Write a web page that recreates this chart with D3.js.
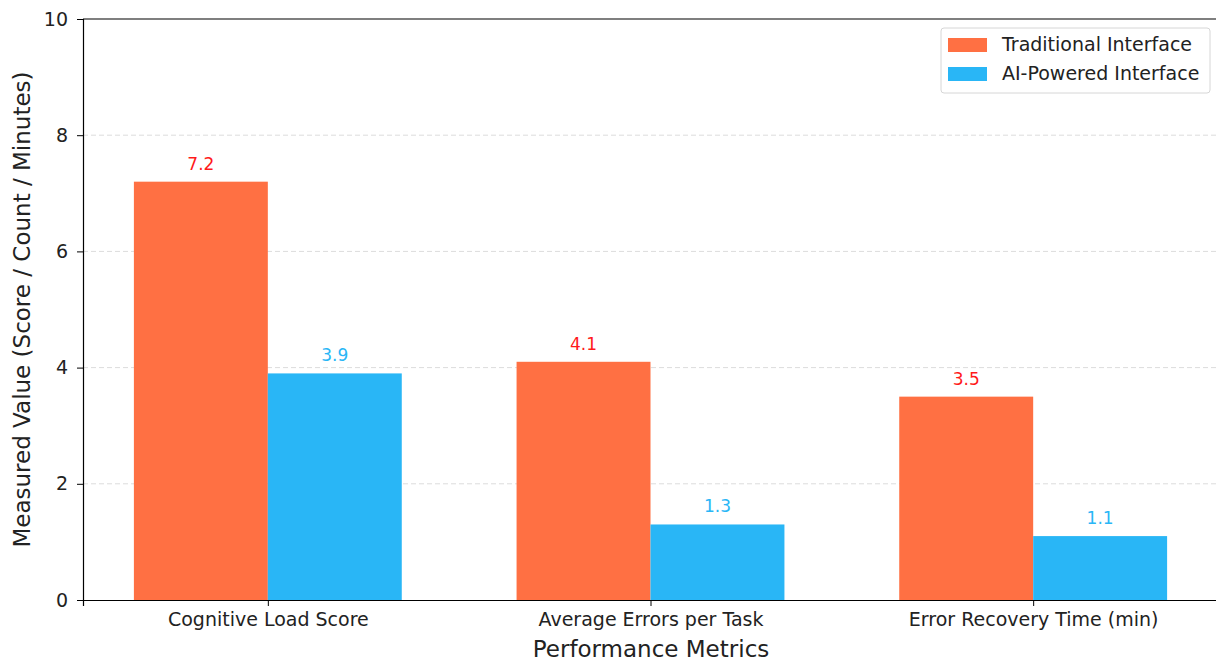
<!DOCTYPE html>
<html>
<head>
<meta charset="utf-8">
<script src="https://cdn.jsdelivr.net/npm/d3@7"></script>
<style>
  body { margin: 0; background: #fff; }
  svg, svg text { font-family: "DejaVu Sans", sans-serif; }
</style>
</head>
<body>
<div id="chart"></div>
<script>
var categories = ["Cognitive Load Score", "Average Errors per Task", "Error Recovery Time (min)"];
var seriesNames = ["Traditional Interface", "AI-Powered Interface"];
var traditional = [7.2, 4.1, 3.5];
var aiPowered = [3.9, 1.3, 1.1];
var yTicks = [0, 2, 4, 6, 8, 10];

var barColors = ["#FF7043", "#29B6F6"];
var labelColors = ["#FF1a1a", "#29B6F6"];

var svgWidth = 1216, svgHeight = 662;
var margin = { left: 83, top: 19, bottom: 600, right: 1218 };
var barW = 0.35;

var svg = d3.select("#chart").append("svg")
    .attr("width", svgWidth)
    .attr("height", svgHeight);

var xScale = d3.scaleLinear()
    .domain([-0.483, 2.483])
    .range([margin.left, margin.right]);

var yScale = d3.scaleLinear()
    .domain([0, 10])
    .range([margin.bottom, margin.top]);

// grid
svg.append("g").selectAll("line")
    .data(yTicks.filter(function(d) { return d > 0 && d < 10; }))
    .enter().append("line")
    .attr("x1", margin.left).attr("x2", margin.right)
    .attr("y1", function(d) { return yScale(d); })
    .attr("y2", function(d) { return yScale(d); })
    .attr("stroke", "#dcdcdc")
    .attr("stroke-width", 1)
    .attr("stroke-dasharray", "5,3");

var series = [traditional, aiPowered];

series.forEach(function(vals, s) {
    var offset = s === 0 ? -barW : 0;
    svg.append("g").selectAll("rect")
        .data(vals)
        .enter().append("rect")
        .attr("x", function(d, i) { return xScale(i + offset); })
        .attr("width", function() { return xScale(barW) - xScale(0); })
        .attr("y", function(d) { return yScale(d); })
        .attr("height", function(d) { return yScale(0) - yScale(d); })
        .attr("fill", barColors[s]);

    svg.append("g").selectAll("text")
        .data(vals)
        .enter().append("text")
        .attr("x", function(d, i) { return xScale(i + offset + barW / 2); })
        .attr("y", function(d) { return yScale(d) - 12; })
        .attr("text-anchor", "middle")
        .attr("font-size", "17px")
        .attr("fill", labelColors[s])
        .text(function(d) { return d.toFixed(1); });
});

// axes
var yAxis = d3.axisLeft(yScale)
    .tickValues(yTicks)
    .tickSize(6)
    .tickPadding(9)
    .tickFormat(d3.format("d"));

var gy = svg.append("g")
    .attr("transform", "translate(" + margin.left + ",0)")
    .call(yAxis);
gy.attr("font-family", "DejaVu Sans");
gy.select(".domain").attr("stroke", "#000").attr("stroke-width", 1.2);
gy.selectAll("text").attr("font-size", "19px").attr("fill", "#222");

var xAxis = d3.axisBottom(xScale)
    .tickValues([0, 1, 2])
    .tickSize(6)
    .tickPadding(7)
    .tickFormat(function(d) { return categories[d]; });

var gx = svg.append("g")
    .attr("transform", "translate(0," + margin.bottom + ")")
    .call(xAxis);
gx.attr("font-family", "DejaVu Sans");
gx.select(".domain").attr("stroke", "#000").attr("stroke-width", 1.2);
gx.selectAll("text").attr("font-size", "19px").attr("fill", "#222");

// top spine
svg.append("line")
    .attr("x1", margin.left).attr("x2", margin.right)
    .attr("y1", margin.top).attr("y2", margin.top)
    .attr("stroke", "#000").attr("stroke-width", 1.2);

// axis titles
svg.append("text")
    .attr("x", 651)
    .attr("y", 657)
    .attr("text-anchor", "middle")
    .attr("font-size", "23px")
    .attr("fill", "#222")
    .text("Performance Metrics");

svg.append("text")
    .attr("transform", "translate(30," + ((margin.top + margin.bottom) / 2) + ") rotate(-90)")
    .attr("text-anchor", "middle")
    .attr("font-size", "23px")
    .attr("fill", "#222")
    .text("Measured Value (Score / Count / Minutes)");

// legend
var legend = svg.append("g").attr("transform", "translate(941,28)");
legend.append("rect")
    .attr("width", 269).attr("height", 65)
    .attr("rx", 3)
    .attr("fill", "#fff")
    .attr("stroke", "#d6d6d6");

seriesNames.forEach(function(name, i) {
    legend.append("rect")
        .attr("x", 7).attr("y", 10 + i * 29)
        .attr("width", 39).attr("height", 14)
        .attr("fill", barColors[i]);
    legend.append("text")
        .attr("x", 61).attr("y", 23 + i * 29)
        .attr("font-size", "19px")
        .attr("fill", "#222")
        .text(name);
});
</script>
</body>
</html>
